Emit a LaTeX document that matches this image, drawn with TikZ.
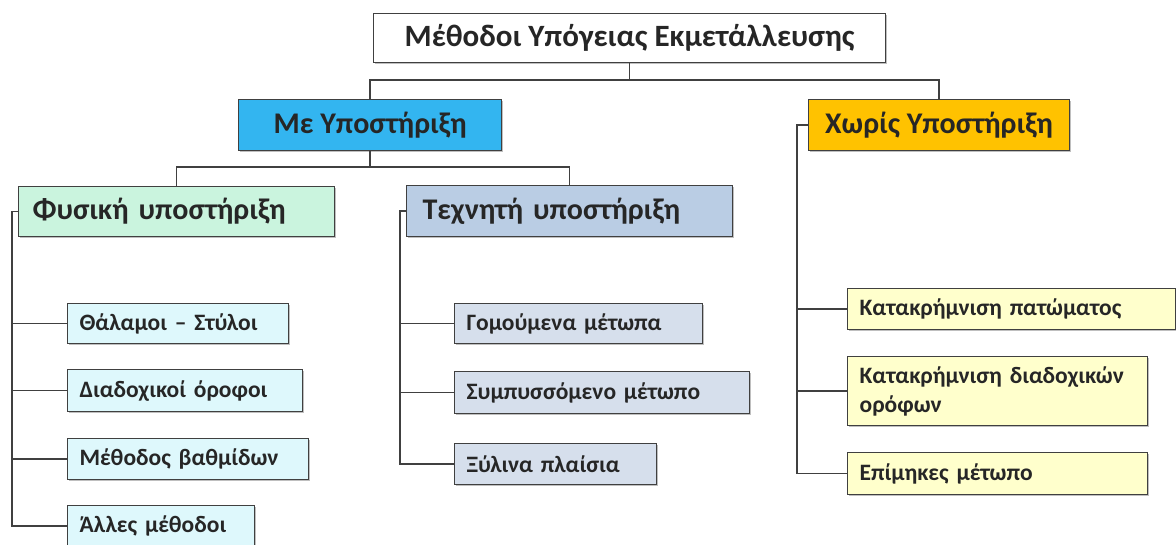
\documentclass[tikz,border=0pt]{standalone}
\usepackage{fontspec}
\setmainfont{Carlito}
\usetikzlibrary{shadows}
\definecolor{lnc}{RGB}{64,64,64}
\definecolor{meblue}{RGB}{51,181,240}
\definecolor{xgold}{RGB}{255,194,0}
\definecolor{fysg}{RGB}{202,244,222}
\definecolor{texb}{RGB}{186,205,228}
\definecolor{fysk}{RGB}{222,248,252}
\definecolor{texk}{RGB}{214,223,236}
\definecolor{xk}{RGB}{255,255,204}
\tikzset{
  bx/.style={draw=lnc, line width=1.2pt, anchor=north west, inner ysep=0pt, text=black!85,
    drop shadow={shadow xshift=1.5pt, shadow yshift=-1.5pt, fill=black, opacity=0.25}},
  rootbox/.style={bx, fill=white, inner xsep=0pt, font=\fontsize{31}{35}\selectfont\bfseries},
  headbox/.style={bx, inner xsep=0pt, font=\fontsize{30}{34}\selectfont\bfseries},
  subbox/.style={bx, align=left, font=\fontsize{30}{34}\selectfont\bfseries},
  kid/.style={bx, align=left, inner xsep=12pt, font=\fontsize{23.5}{29}\selectfont\bfseries},
  conn/.style={draw=lnc, line width=1.5pt}
}
\begin{document}
\begin{tikzpicture}[x=1pt,y=-1pt]
\useasboundingbox (0,0) rectangle (1176,545);
% root
\node[rootbox, minimum width=512pt, minimum height=49pt] (root) at (373,13) {Μέθοδοι Υπόγειας Εκμετάλλευσης};
% level 1
\node[headbox, fill=meblue, minimum width=263pt, minimum height=51pt] (me) at (238,99) {Με Υποστήριξη};
\node[headbox, fill=xgold, minimum width=261pt, minimum height=51pt] (xo) at (808,99) {Χωρίς Υποστήριξη};
% level 2
\node[subbox, fill=fysg, inner xsep=14pt, text width=288pt, minimum height=50pt] (fys) at (18,186) {Φυσική υποστήριξη};
\node[subbox, fill=texb, inner xsep=16pt, text width=294pt, minimum height=51pt] (tex) at (406,185) {Τεχνητή υποστήριξη};
% fysiki children
\node[kid, fill=fysk, text width=197pt, minimum height=40pt] (f1) at (67,303) {Θάλαμοι – Στύλοι};
\node[kid, fill=fysk, text width=211pt, minimum height=42pt] (f2) at (67,369) {Διαδοχικοί όροφοι};
\node[kid, fill=fysk, text width=217pt, minimum height=41pt] (f3) at (67,438) {Μέθοδος βαθμίδων};
\node[kid, fill=fysk, text width=163pt, minimum height=41pt] (f4) at (67,505) {Άλλες μέθοδοι};
% texniti children
\node[kid, fill=texk, text width=224pt, minimum height=40pt] (t1) at (454,303) {Γομούμενα μέτωπα};
\node[kid, fill=texk, text width=271pt, minimum height=42pt] (t2) at (454,371) {Συμπυσσόμενο μέτωπο};
\node[kid, fill=texk, text width=178pt, minimum height=41pt] (t3) at (454,443) {Ξύλινα πλαίσια};
% xoris children
\node[kid, fill=xk, text width=304pt, minimum height=41pt] (x1) at (847,288) {Κατακρήμνιση πατώματος};
\node[kid, fill=xk, text width=276pt, minimum height=69pt] (x2) at (847,356) {Κατακρήμνιση διαδοχικών\\ορόφων};
\node[kid, fill=xk, text width=276pt, minimum height=42pt] (x3) at (847,452) {Επίμηκες μέτωπο};
% bus coordinates
\coordinate (b0) at (0,80);
\coordinate (b1) at (0,167);
\coordinate (fb) at (12,0);
\coordinate (tb) at (400,0);
\coordinate (xb) at (797,0);
% connectors
\draw[conn] (root.south) -- (root.south |- b0) -| (me.north);
\draw[conn] (root.south |- b0) -| (xo.north);
\draw[conn] (me.south) -- (me.south |- b1) -| (fys.north);
\draw[conn] (me.south |- b1) -| (tex.north);
\draw[conn] (fys.west) -| (fb |- f4.west) -- (f4.west);
\draw[conn] (fb |- f1.west) -- (f1.west);
\draw[conn] (fb |- f2.west) -- (f2.west);
\draw[conn] (fb |- f3.west) -- (f3.west);
\draw[conn] (tex.west) -| (tb |- t3.west) -- (t3.west);
\draw[conn] (tb |- t1.west) -- (t1.west);
\draw[conn] (tb |- t2.west) -- (t2.west);
\draw[conn] (xo.west) -| (xb |- x3.west) -- (x3.west);
\draw[conn] (xb |- x1.west) -- (x1.west);
\draw[conn] (xb |- x2.west) -- (x2.west);
\end{tikzpicture}
\end{document}
